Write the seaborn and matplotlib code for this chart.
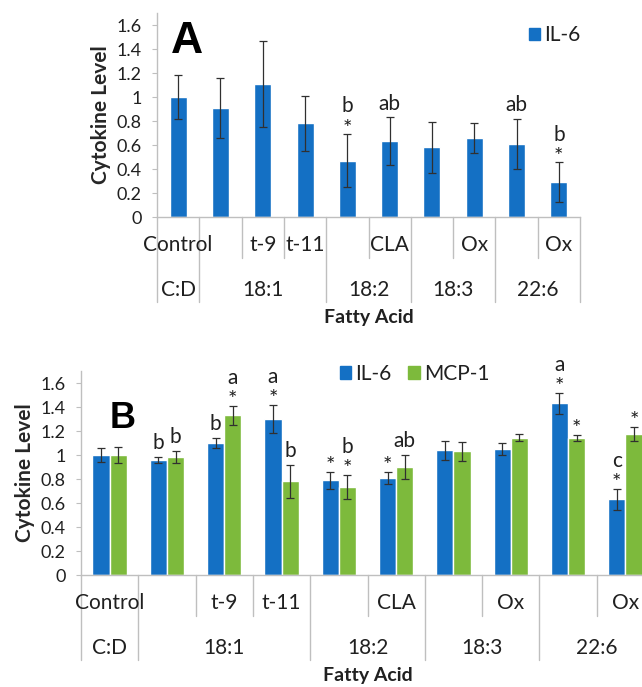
import numpy as np
import pandas as pd
import matplotlib
matplotlib.use('Agg')
import matplotlib.pyplot as plt
import matplotlib.transforms as mtransforms
import seaborn as sns

# x categories (unique keys) and the two rows of axis labels
cats = ['Control', '18:1', 't-9', 't-11', '18:2', 'CLA', '18:3', '18:3 Ox', '22:6', '22:6 Ox']
row1 = ['Control', '', 't-9', 't-11', '', 'CLA', '', 'Ox', '', 'Ox']
groups = ['C:D', '18:1', '18:2', '18:3', '22:6']
group_sizes = [1, 3, 2, 2, 2]

# panel A - IL-6 only
il6_a = [1.00, 0.91, 1.11, 0.78, 0.47, 0.63, 0.58, 0.66, 0.61, 0.29]
il6_a_err = [0.18, 0.25, 0.36, 0.23, 0.22, 0.20, 0.21, 0.125, 0.21, 0.165]
il6_a_star = ['', '', '', '', '*', '', '', '', '', '*']
il6_a_let = ['', '', '', '', 'b', 'ab', '', '', 'ab', 'b']

# panel B - IL-6 and MCP-1
il6_b = [1.00, 0.96, 1.10, 1.30, 0.79, 0.81, 1.04, 1.05, 1.43, 0.63]
il6_b_err = [0.06, 0.025, 0.04, 0.12, 0.07, 0.05, 0.08, 0.05, 0.09, 0.09]
il6_b_star = ['', '', '', '*', '*', '*', '', '', '*', '*']
il6_b_let = ['', 'b', 'b', 'a', '', '', '', '', 'a', 'c']

mcp1_b = [1.00, 0.985, 1.33, 0.78, 0.735, 0.90, 1.03, 1.145, 1.145, 1.175]
mcp1_b_err = [0.065, 0.05, 0.08, 0.14, 0.10, 0.10, 0.08, 0.03, 0.025, 0.06]
mcp1_b_star = ['', '', '*', '', '*', '', '', '', '*', '*']
mcp1_b_let = ['', 'b', 'a', 'b', 'b', 'ab', '', '', '', '']

blue = '#1470C4'
green = '#7DBA3C'
grey = '#BFBFBF'

sns.set_style('white')
plt.rcParams['font.family'] = ['Lato', 'DejaVu Sans']
plt.rcParams['text.color'] = '#202020'

fig = plt.figure(figsize=(6.42, 6.87), dpi=100)
AX_H = 204.0  # axes height in pixels, used for the label rows below the axis


def draw_panel(ax, df, colors, width, errs, stars, lets):
    sns.barplot(data=df, x='cat', y='val', hue='cytokine', order=cats,
                palette=colors, width=width, errorbar=None, legend=False,
                saturation=1, ax=ax)
    for cont, e, st, lt in zip(ax.containers, errs, stars, lets):
        xs = [p.get_x() + p.get_width() / 2 for p in cont]
        ys = [p.get_height() for p in cont]
        ax.errorbar(xs, ys, yerr=e, fmt='none', ecolor='#303030',
                    elinewidth=0.9, capsize=3, capthick=0.9)
        for x, y, ee, s, l in zip(xs, ys, e, st, lt):
            top = y + ee
            if s:
                ax.annotate(s, (x, top), xytext=(0, 4), textcoords='offset points',
                            ha='center', va='center', fontsize=16)
            if l:
                ax.annotate(l, (x, top), xytext=(0, 20 if s else 10),
                            textcoords='offset points', ha='center',
                            va='center', fontsize=15)

    ax.set_xlim(-0.5, len(cats) - 0.5)
    ax.set_ylim(0, 1.7)
    ax.set_yticks(np.arange(0, 1.61, 0.2))
    ax.set_yticklabels(['0', '0.2', '0.4', '0.6', '0.8', '1', '1.2', '1.4', '1.6'])
    ax.tick_params(axis='y', length=3.6, color=grey, labelsize=13, pad=7.5,
                   labelcolor='#202020', left=True)
    ax.tick_params(axis='x', length=0, labelbottom=False)
    ax.set_xlabel('')
    ax.set_ylabel('Cytokine Level', fontsize=15, fontweight='bold')
    for side in ['top', 'right']:
        ax.spines[side].set_visible(False)
    for side in ['left', 'bottom']:
        ax.spines[side].set_color(grey)
        ax.spines[side].set_linewidth(1)

    # two-level category axis, Excel style
    trans = mtransforms.blended_transform_factory(ax.transData, ax.transAxes)
    r1_text, r1_line = -28 / AX_H, -41 / AX_H
    r2_text, r2_line = -73 / AX_H, -85 / AX_H
    for i, lab in enumerate(row1):
        ax.text(i, r1_text, lab, transform=trans, ha='center', va='center', fontsize=15)
    edges = np.cumsum([0] + group_sizes)
    for i in range(len(cats) + 1):
        y_end = r2_line if i in edges else r1_line
        ax.plot([i - 0.5, i - 0.5], [0, y_end], transform=trans, color=grey,
                lw=1, clip_on=False)
    for g, a, b in zip(groups, edges[:-1], edges[1:]):
        ax.text((a + b - 1) / 2, r2_text, g, transform=trans, ha='center',
                va='center', fontsize=15)
    ax.text(0.5, -101 / AX_H, 'Fatty Acid', transform=ax.transAxes, ha='center',
            va='center', fontsize=14, fontweight='bold')


# panel A
df_a = pd.DataFrame({'cat': cats, 'val': il6_a, 'cytokine': 'IL-6'})
ax_a = fig.add_axes([157 / 642, 1 - 217 / 687, 423 / 642, AX_H / 687])
draw_panel(ax_a, df_a, [blue], 0.4, [il6_a_err], [il6_a_star], [il6_a_let])
ax_a.yaxis.set_label_coords(-46 / 423, 0.5)
ax_a.text(0.07, 0.86, 'A', transform=ax_a.transAxes, fontsize=32,
          fontweight='bold', family='Liberation Sans', ha='center', va='center',
          color='black')
ax_a.legend(handles=[plt.Rectangle((0, 0), 1, 1, color=blue)], labels=['IL-6'],
            loc='center left', bbox_to_anchor=(0.835, 0.89), frameon=False,
            fontsize=15, handlelength=0.55, handleheight=0.55, handletextpad=0.2)

# panel B
df_b = pd.DataFrame({'cat': cats * 2, 'val': il6_b + mcp1_b,
                     'cytokine': ['IL-6'] * len(cats) + ['MCP-1'] * len(cats)})
ax_b = fig.add_axes([81 / 642, 1 - 575 / 687, 573 / 642, AX_H / 687])
draw_panel(ax_b, df_b, [blue, green], 0.6, [il6_b_err, mcp1_b_err],
           [il6_b_star, mcp1_b_star], [il6_b_let, mcp1_b_let])
ax_b.yaxis.set_label_coords(-46 / 573, 0.5)
ax_b.text(0.072, 0.765, 'B', transform=ax_b.transAxes, fontsize=26,
          fontweight='bold', family='Liberation Sans', ha='center', va='center',
          color='black')
ax_b.legend(handles=[plt.Rectangle((0, 0), 1, 1, color=blue),
                     plt.Rectangle((0, 0), 1, 1, color=green)],
            labels=['IL-6', 'MCP-1'], loc='center left',
            bbox_to_anchor=(0.419, 0.985), frameon=False, ncol=2, fontsize=15,
            handlelength=0.55, handleheight=0.55, handletextpad=0.2,
            columnspacing=0.8)

fig.savefig('out.png', dpi=100)
